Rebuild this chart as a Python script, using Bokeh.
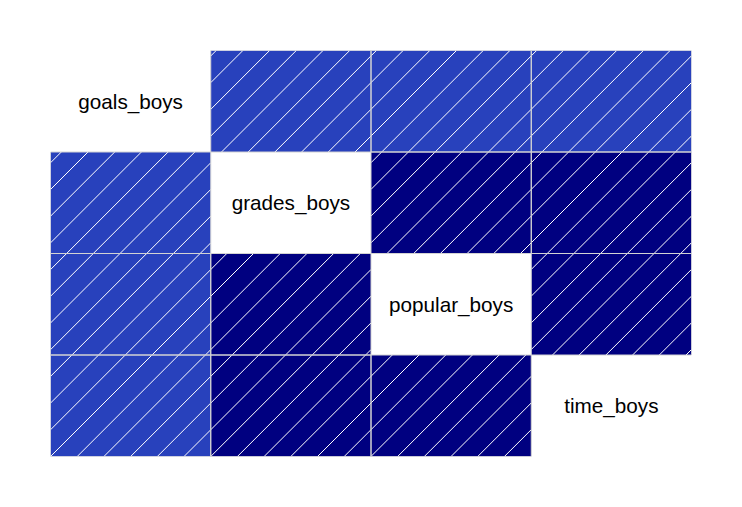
import numpy as np
from bokeh.plotting import figure
from bokeh.models import ColumnDataSource, Range1d
from bokeh.core.properties import value
from bokeh.embed import file_html
from bokeh.resources import INLINE

# Variables (diagonal labels, top to bottom)
variables = ["goals_boys", "grades_boys", "popular_boys", "time_boys"]

# Pairwise correlations (upper triangle, estimated from shading bins)
pair_i = [0, 0, 0, 1, 1, 2]
pair_j = [1, 2, 3, 2, 3, 3]
pair_r = [0.62, 0.60, 0.63, 0.91, 0.93, 0.90]

# corrgram default palette: red, salmon, white, royalblue, navy -> 14 colours
anchors = [(255, 0, 0), (250, 128, 114), (255, 255, 255), (65, 105, 225), (0, 0, 128)]
ncol = 14


def palette(n):
    cols = []
    for k in range(n):
        t = k * (len(anchors) - 1) / (n - 1)
        a = min(int(np.floor(t)), len(anchors) - 2)
        f = t - a
        c = [round(anchors[a][m] + (anchors[a + 1][m] - anchors[a][m]) * f) for m in range(3)]
        cols.append("#%02x%02x%02x" % tuple(c))
    return cols


pal = palette(ncol)
breaks = np.linspace(-1, 1, ncol + 1)


def colour_for(r):
    idx = int(np.searchsorted(breaks, r, side="left")) - 1
    idx = min(max(idx, 0), ncol - 1)
    return pal[idx]


W, H = 742, 507
ML, MR, MT, MB = 50, 51, 50, 51
n = len(variables)
sx = (W - ML - MR) / n   # pixels per data unit (x)
sy = (H - MT - MB) / n   # pixels per data unit (y)
spacing = 26.7           # horizontal hatch spacing in pixels (density 5/inch, 45 deg)

left, right, bottom, top, fill = [], [], [], [], []
hx0, hy0, hx1, hy1 = [], [], [], []
for i, j, r in zip(pair_i, pair_j, pair_r):
    for (row, col) in [(i, j), (j, i)]:
        l, rr, b, t = col, col + 1, n - 1 - row, n - row
        left.append(l); right.append(rr); bottom.append(b); top.append(t)
        fill.append(colour_for(r))
        # 45-degree hatch lines (sign of r gives direction)
        x0, x1, y0, y1 = l * sx, rr * sx, b * sy, t * sy
        dmin, dmax = x0 - y1, x1 - y0
        k = np.ceil(dmin / spacing)
        while k * spacing <= dmax:
            d = k * spacing
            xs = max(x0, y0 + d)
            xe = min(x1, y1 + d)
            if xe > xs:
                hx0.append(xs / sx); hy0.append((xs - d) / sy)
                hx1.append(xe / sx); hy1.append((xe - d) / sy)
            k += 1

src = ColumnDataSource(dict(left=left, right=right, bottom=bottom, top=top, fill=fill))
hsrc = ColumnDataSource(dict(x0=hx0, y0=hy0, x1=hx1, y1=hy1))

p = figure(width=W, height=H, output_backend="svg", toolbar_location=None,
           x_range=Range1d(0, n), y_range=Range1d(0, n),
           min_border_left=ML, min_border_right=MR, min_border_top=MT, min_border_bottom=MB)
p.axis.visible = False
p.grid.visible = False
p.outline_line_color = None
p.background_fill_color = "white"
p.border_fill_color = "white"

p.quad(left="left", right="right", bottom="bottom", top="top", source=src,
       fill_color="fill", line_color=None)
p.segment(x0="x0", y0="y0", x1="x1", y1="y1", source=hsrc, line_color="white", line_width=1)
p.quad(left="left", right="right", bottom="bottom", top="top", source=src,
       fill_color=None, line_color="#d3d3d3", line_width=1)

lab = ColumnDataSource(dict(x=[k + 0.5 for k in range(n)],
                            y=[n - k - 0.5 for k in range(n)],
                            text=variables))
p.text(x="x", y="y", text="text", source=lab, text_align="center", text_baseline="middle",
       text_font=value("Liberation Sans"), text_font_size="20.7px", text_color="black")

open("out.html", "w").write(file_html(p, INLINE))
